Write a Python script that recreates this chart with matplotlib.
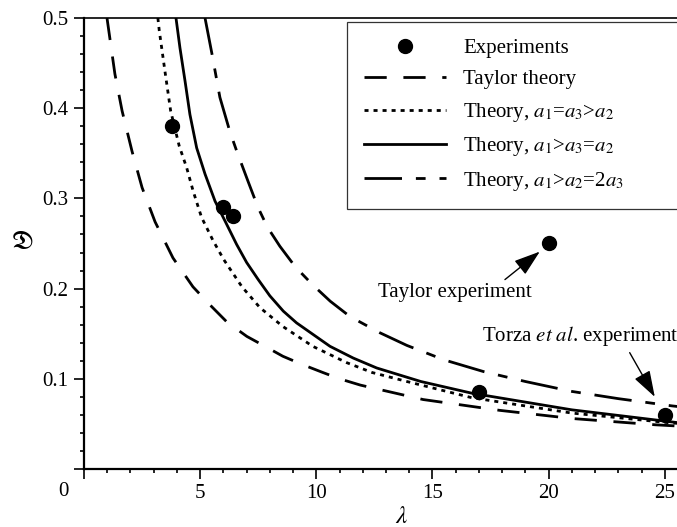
import matplotlib
matplotlib.use("Agg")
import matplotlib.pyplot as plt
from matplotlib.ticker import MultipleLocator

plt.rcParams['font.family'] = ['Liberation Serif', 'DejaVu Serif']
plt.rcParams['mathtext.fontset'] = 'stix'
plt.rcParams['lines.scale_dashes'] = False

# Experiments (lambda, D)
exp_lam = [3.8, 6.0, 6.4, 17.0, 20.0, 25.0]
exp_d = [0.38, 0.29, 0.28, 0.085, 0.25, 0.06]

# Taylor theory
taylor_lam = [0.99, 1.33, 1.64, 2.07, 2.50, 3.06, 3.83, 4.69, 5.42, 6.15, 7.01,
              7.79, 8.56, 9.38, 10.28, 11.0, 11.9, 14.6, 17.9, 21.0, 24.6, 26.0]
taylor_d = [0.50, 0.438, 0.397, 0.352, 0.312, 0.274, 0.234, 0.202, 0.182, 0.163, 0.147,
            0.136, 0.125, 0.116, 0.107, 0.100, 0.093, 0.077, 0.065, 0.056, 0.049, 0.047]

# Theory, a1=a3>a2
dot_lam = [3.18, 3.24, 3.49, 3.73, 4.10, 4.42, 4.70, 5.06, 5.56, 6.02, 6.8,
           7.57, 8.56, 9.85, 11.3, 12.4, 13.9, 16.7, 21.0, 25.3, 26.0]
dot_d = [0.50, 0.486, 0.440, 0.397, 0.358, 0.334, 0.308, 0.279, 0.253, 0.232, 0.202,
         0.179, 0.158, 0.136, 0.118, 0.107, 0.097, 0.079, 0.062, 0.051, 0.050]

# Theory, a1>a3=a2
sol_lam = [3.96, 4.13, 4.35, 4.56, 4.85, 5.21, 5.64, 6.07, 6.57, 7.0, 7.5, 8.0,
           8.58, 9.15, 9.87, 10.59, 11.59, 12.6, 14.5, 16.7, 21.0, 26.0]
sol_d = [0.50, 0.467, 0.430, 0.393, 0.356, 0.327, 0.297, 0.275, 0.249, 0.229, 0.210, 0.192,
         0.175, 0.162, 0.149, 0.136, 0.123, 0.112, 0.097, 0.084, 0.0656, 0.050]

# Theory, a1>a2=2a3
dd_lam = [5.21, 5.51, 5.85, 6.28, 6.58, 7.06, 7.49, 7.75, 8.0, 8.43, 9.1, 9.85, 10.6,
          11.45, 12.74, 13.9, 15.5, 17.2, 19.0, 21.0, 23.0, 25.3, 26.0]
dd_d = [0.50, 0.46, 0.412, 0.374, 0.352, 0.319, 0.29, 0.276, 0.264, 0.247, 0.224, 0.204, 0.186,
        0.169, 0.151, 0.137, 0.121, 0.108, 0.097, 0.086, 0.078, 0.070, 0.068]

fig = plt.figure(figsize=(6.77, 5.27), dpi=100)
ax = fig.add_axes([84 / 677, 58 / 527, 604 / 677, 451 / 527])

lw = 2.0
ax.plot(taylor_lam, taylor_d, color='black', lw=lw, dashes=(16, 12), label='Taylor theory')
ax.plot(dot_lam, dot_d, color='black', lw=lw, dashes=(2.9, 3.6), label='Theory, $a_1$=$a_3$>$a_2$')
ax.plot(sol_lam, sol_d, color='black', lw=lw, label='Theory, $a_1$>$a_3$=$a_2$')
ax.plot(dd_lam, dd_d, color='black', lw=lw, dashes=(27, 10, 7, 10), label='Theory, $a_1$>$a_2$=2$a_3$')
ax.plot(exp_lam, exp_d, 'o', color='black', ms=10, label='Experiments', zorder=5)

ax.set_xlim(0, 26)
ax.set_ylim(0, 0.5)
ax.xaxis.set_minor_locator(MultipleLocator(1))
ax.yaxis.set_minor_locator(MultipleLocator(0.02))
ax.set_xticks([0, 5, 10, 15, 20, 25])
ax.set_xticklabels(['', '5', '10', '15', '20', '25'])
ax.set_yticks([0, 0.1, 0.2, 0.3, 0.4, 0.5])
ax.set_yticklabels(['', '0.1', '0.2', '0.3', '0.4', '0.5'])
ax.tick_params(which='major', direction='out', length=7, width=1.2, labelsize=15, pad=4)
ax.tick_params(which='minor', direction='out', length=3, width=1.2)
ax.text(-0.9, -0.025, '0', fontsize=15, ha='center', va='center')

for s in ['left', 'bottom']:
    ax.spines[s].set_linewidth(1.6)
ax.spines['top'].set_linewidth(1.2)
ax.spines['right'].set_visible(False)

ax.set_ylabel(r'$\mathfrak{D}$', fontsize=18, rotation=0, ha='center', va='center')
ax.yaxis.set_label_coords(-0.103, 0.501)
ax.set_xlabel(r'$\lambda$', fontsize=18, va='center')
ax.xaxis.set_label_coords(0.526, -0.106)

# annotations
arrow = dict(arrowstyle='-|>,head_length=0.9,head_width=0.3',
             color='black', lw=1, mutation_scale=18, shrinkA=0, shrinkB=0)
ax.annotate('', xy=(19.62, 0.241), xytext=(18.12, 0.21), arrowprops=arrow)
ax.text(15.96, 0.1956, 'Taylor experiment', fontsize=15, ha='center', va='center')
ax.annotate('', xy=(24.57, 0.080), xytext=(23.49, 0.129), arrowprops=arrow)
ax.text(17.13, 0.147, r'Torza $\it{et\ al}$. experiment', fontsize=15, ha='left', va='center')

handles, labels = ax.get_legend_handles_labels()
order = [4, 0, 1, 2, 3]
leg = ax.legend([handles[i] for i in order], [labels[i] for i in order],
                loc='upper left', bbox_to_anchor=(0.4354, 0.3, 0.66, 0.691), mode='expand',
                borderaxespad=0, fontsize=15, frameon=True, fancybox=False,
                edgecolor='black', handlelength=3.95, handletextpad=0.82,
                borderpad=0.8, labelspacing=0.55)
leg.get_frame().set_linewidth(0.9)

fig.savefig('out.png', dpi=100)
